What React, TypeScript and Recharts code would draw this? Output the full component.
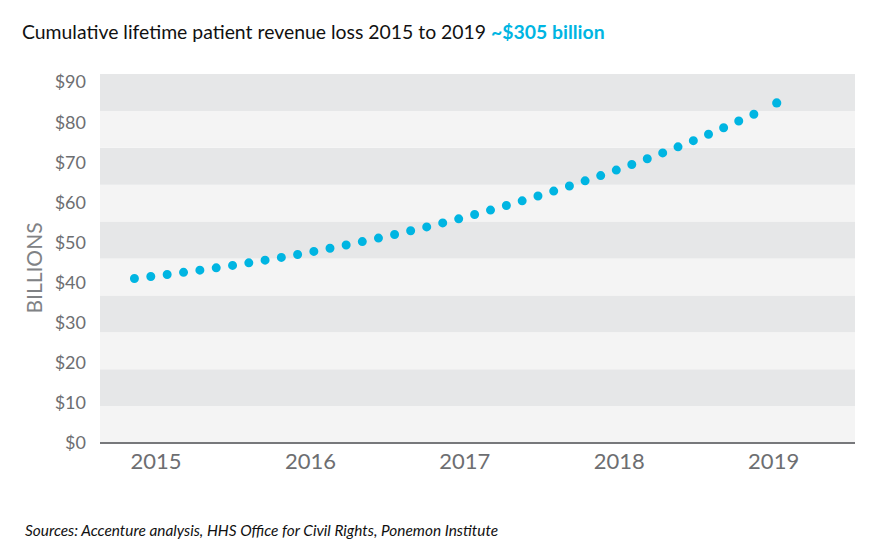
import React from "react";
import { LineChart, Line, XAxis, YAxis, ReferenceArea } from "recharts";

// values (billions of dollars)
const YEARS = [2014.86, 2015.5, 2016, 2016.5, 2017, 2017.5, 2018, 2018.5, 2018.88];
const VALUES = [41.0, 44.3, 47.6, 51.6, 56.3, 61.9, 68.3, 75.7, 82.1];
const END_YEAR = 2019.02;
const END_VALUE = 84.8;
const X_TICKS = [2015, 2016, 2017, 2018, 2019];
const Y_TICKS = [0, 10, 20, 30, 40, 50, 60, 70, 80, 90];

const data: any[] = YEARS.map((year, i) => ({ year, value: VALUES[i] }));
data.push({ year: END_YEAR, end: END_VALUE });

const BLUE = "#00b5e2";
const GREY_TEXT = "#6d6e71";
const FONT = "Lato, 'Open Sans', sans-serif";
const Y_MAX = 92;
const BAND_COUNT = 10;
const bands = Array.from({ length: BAND_COUNT }, (_, i) => ({
  y1: (Y_MAX / BAND_COUNT) * i,
  y2: (Y_MAX / BAND_COUNT) * (i + 1),
  fill: i % 2 === 0 ? "#f4f4f4" : "#e6e7e8",
}));

export default function App() {
  return (
    <div style={{ position: "absolute", left: 0, top: 0, width: 875, height: 552, background: "#fff", fontFamily: FONT }}>
      <div style={{ position: "absolute", left: 22, top: 22, fontSize: 19.4, lineHeight: "19px", color: "#111", whiteSpace: "nowrap" }}>
        Cumulative lifetime patient revenue loss 2015 to 2019{" "}
        <span style={{ color: BLUE, fontWeight: 700 }}>~$305 billion</span>
      </div>

      <LineChart width={875} height={552} data={data} margin={{ top: 74, right: 20, left: 0, bottom: 69 }}>
        {bands.map((b, i) => (
          <ReferenceArea key={i} y1={b.y1} y2={b.y2} fill={b.fill} fillOpacity={1} stroke="none" ifOverflow="visible" />
        ))}
        <XAxis
          dataKey="year"
          type="number"
          domain={[2014.637, 2019.527]}
          ticks={X_TICKS}
          allowDataOverflow
          height={40}
          tickLine={false}
          tickSize={0}
          tickMargin={10}
          axisLine={{ stroke: "#77787b", strokeWidth: 2 }}
          tick={{ fill: GREY_TEXT, fontSize: 22, fontFamily: FONT }}
        />
        <YAxis
          type="number"
          domain={[0, Y_MAX]}
          ticks={Y_TICKS}
          width={100}
          axisLine={false}
          tickLine={false}
          tickSize={0}
          tickMargin={14}
          tickFormatter={(v) => `$${v}`}
          tick={{ fill: GREY_TEXT, fontSize: 18, fontFamily: FONT }}
        />
        {/* dotted trend drawn as round-capped zero-length dashes */}
        <Line
          dataKey="value"
          type="monotone"
          stroke={BLUE}
          strokeWidth={9}
          strokeLinecap="round"
          strokeDasharray="0 16.5"
          isAnimationActive={false}
          activeDot={false}
          dot={false}
        />
        <Line
          dataKey="end"
          stroke="none"
          isAnimationActive={false}
          activeDot={false}
          dot={{ r: 4.6, fill: BLUE, stroke: "none" }}
        />
      </LineChart>

      <div
        style={{
          position: "absolute",
          left: 33,
          top: 268,
          transform: "translate(-50%, -50%) rotate(-90deg)",
          fontSize: 21,
          lineHeight: "21px",
          color: "#808285",
          whiteSpace: "nowrap",
        }}
      >
        BILLIONS
      </div>

      <div style={{ position: "absolute", left: 25, top: 523, fontSize: 15.4, lineHeight: "15px", fontStyle: "italic", color: "#111", whiteSpace: "nowrap" }}>
        Sources: Accenture analysis, HHS Office for Civil Rights, Ponemon Institute
      </div>
    </div>
  );
}
